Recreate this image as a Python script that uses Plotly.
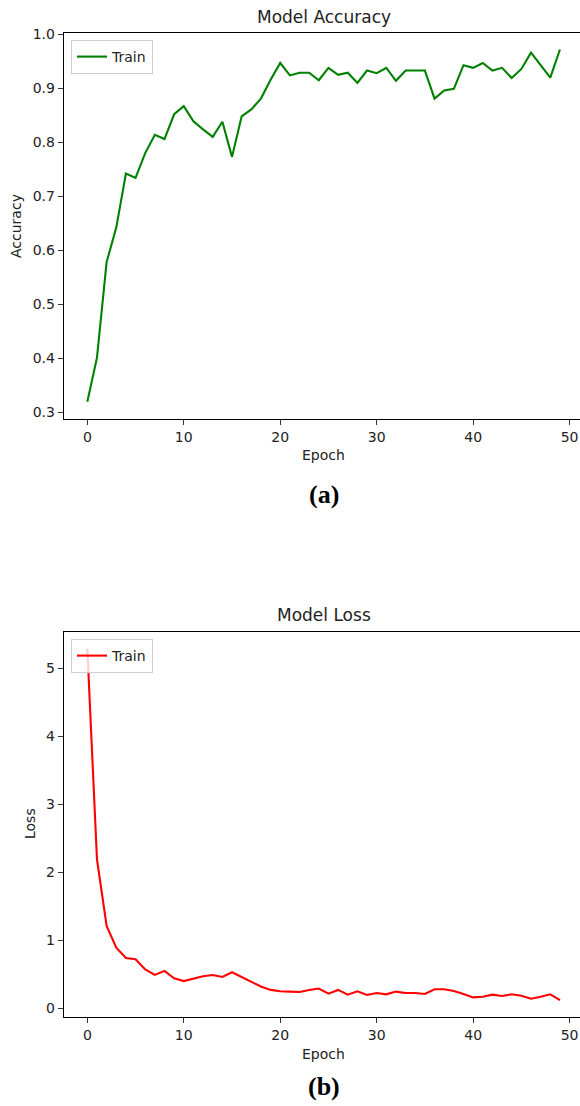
import plotly.graph_objects as go

# ---- data ----
epochs = list(range(50))
train_accuracy = [0.319, 0.401, 0.578, 0.642, 0.742, 0.734, 0.780, 0.814, 0.806, 0.852,
                  0.867, 0.839, 0.824, 0.810, 0.838, 0.773, 0.848, 0.861, 0.881, 0.916,
                  0.947, 0.924, 0.929, 0.929, 0.915, 0.938, 0.925, 0.929, 0.910, 0.933,
                  0.928, 0.938, 0.914, 0.933, 0.933, 0.933, 0.881, 0.896, 0.899, 0.943,
                  0.938, 0.947, 0.933, 0.938, 0.919, 0.936, 0.966, 0.943, 0.920, 0.972]
train_loss = [5.29, 2.19, 1.21, 0.89, 0.74, 0.72, 0.57, 0.49, 0.55, 0.44,
              0.40, 0.44, 0.47, 0.49, 0.46, 0.53, 0.46, 0.38, 0.32, 0.27,
              0.25, 0.245, 0.24, 0.27, 0.29, 0.215, 0.27, 0.20, 0.25, 0.195,
              0.225, 0.205, 0.245, 0.225, 0.225, 0.21, 0.28, 0.28, 0.255, 0.21,
              0.16, 0.17, 0.20, 0.18, 0.205, 0.185, 0.14, 0.17, 0.205, 0.12]
x_ticks = [0, 10, 20, 30, 40, 50]
acc_ticks = [0.3, 0.4, 0.5, 0.6, 0.7, 0.8, 0.9, 1.0]
loss_ticks = [0, 1, 2, 3, 4, 5]

W, H = 580, 1106
def px(x):
    return x / W
def py(y):
    return 1 - y / H

FONT = "DejaVu Sans"
TXT = "#222222"

fig = go.Figure()
fig.add_trace(go.Scatter(x=epochs, y=train_accuracy, mode="lines", name="Train",
                         line=dict(color="green", width=2.1), xaxis="x", yaxis="y",
                         legend="legend"))
fig.add_trace(go.Scatter(x=epochs, y=train_loss, mode="lines", name="Train",
                         line=dict(color="red", width=2.1), xaxis="x2", yaxis="y2",
                         legend="legend2"))

xl, xr = 63.7, 580
top_a, bot_a = 32.5, 419
top_b, bot_b = 632, 1016.7

common_x = dict(range=[-2.45, 51.08], tickvals=x_ticks, showgrid=False, zeroline=False,
                showline=True, mirror=True, linecolor="black", linewidth=1,
                ticks="outside", ticklen=5, tickwidth=1, tickcolor="#333",
                automargin=False,
                tickfont=dict(family=FONT, size=14, color=TXT))
common_y = dict(showgrid=False, zeroline=False, showline=True, mirror=False,
                linecolor="black", linewidth=1, ticks="outside", ticklen=5,
                tickwidth=1, tickcolor="#333", automargin=False,
                tickfont=dict(family=FONT, size=14, color=TXT))

legend_style = dict(bgcolor="rgba(255,255,255,0.8)", bordercolor="#d0d0d0", borderwidth=1,
                    font=dict(family=FONT, size=14, color=TXT), xanchor="left",
                    yanchor="top", tracegroupgap=0)

fig.update_layout(
    width=W, height=H, margin=dict(l=0, r=0, t=0, b=0, autoexpand=False),
    paper_bgcolor="white", plot_bgcolor="white",
    xaxis=dict(domain=[px(xl), px(xr)], anchor="y", **common_x),
    yaxis=dict(domain=[py(bot_a), py(top_a)], anchor="x", range=[0.2872, 1.0035],
               tickvals=acc_ticks, tickformat=".1f", **common_y),
    xaxis2=dict(domain=[px(xl), px(xr)], anchor="y2", **common_x),
    yaxis2=dict(domain=[py(bot_b), py(top_b)], anchor="x2", range=[-0.124, 5.534],
                tickvals=loss_ticks, **common_y),
    legend=dict(x=px(71), y=py(40), **legend_style),
    legend2=dict(x=px(71), y=py(639), **legend_style),
    showlegend=True,
)

cx = (xl + 583.8) / 2
annots = [
    dict(text="Model Accuracy", x=px(cx), y=py(17), size=17, family=FONT, angle=0),
    dict(text="Epoch", x=px(cx), y=py(455), size=14, family=FONT, angle=0),
    dict(text="Accuracy", x=px(16), y=py(226), size=14, family=FONT, angle=-90),
    dict(text="<b>(a)</b>", x=px(cx), y=py(494), size=26, family="Liberation Serif", angle=0),
    dict(text="Model Loss", x=px(cx), y=py(615), size=17, family=FONT, angle=0),
    dict(text="Epoch", x=px(cx), y=py(1054), size=14, family=FONT, angle=0),
    dict(text="Loss", x=px(30), y=py(824), size=14, family=FONT, angle=-90),
    dict(text="<b>(b)</b>", x=px(cx), y=py(1086), size=26, family="Liberation Serif", angle=0),
]
for a in annots:
    fig.add_annotation(text=a["text"], x=a["x"], y=a["y"], xref="paper", yref="paper",
                       showarrow=False, xanchor="center", yanchor="middle",
                       textangle=a["angle"],
                       font=dict(family=a["family"], size=a["size"],
                                 color="black" if "(" in a["text"] else TXT))

fig.write_html("out.html",
               config={"displayModeBar": False},
               post_script="document.body.style.margin='0';document.body.style.padding='0';"
                           "document.documentElement.style.overflow='hidden';")
